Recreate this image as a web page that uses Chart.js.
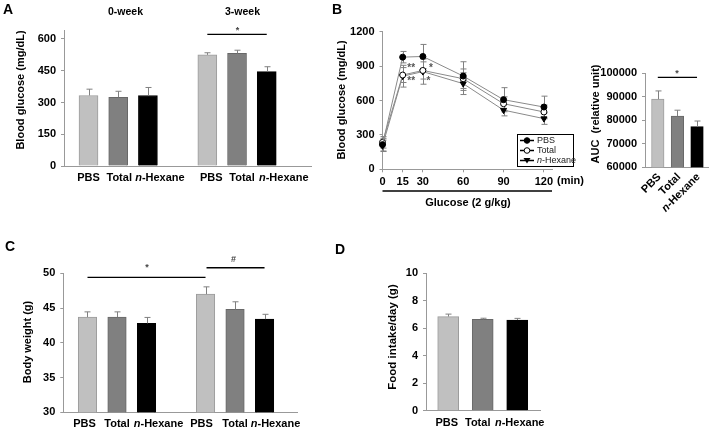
<!DOCTYPE html>
<html>
<head>
<meta charset="utf-8">
<script src="https://cdn.jsdelivr.net/npm/chart.js@4.4.1/dist/chart.umd.min.js"></script>
<style>
  html, body { margin: 0; padding: 0; background: #fff; }
  #page { position: relative; width: 716px; height: 434px; overflow: hidden; background: #fff; }
  canvas { position: absolute; }
</style>
</head>
<body>
<div id="page">
  <canvas id="chartA"></canvas>
  <canvas id="chartB"></canvas>
  <canvas id="chartAuc"></canvas>
  <canvas id="chartC"></canvas>
  <canvas id="chartD"></canvas>
</div>
<script>
// ---- data ----
var groupNames = ['PBS', 'Total', 'n-Hexane'];
var weekTitles = ['0-week', '3-week'];

// A: fasting blood glucose, two time points, gap slot between them
var glucoseSlots = [0, 1, 2, 4, 5, 6];
var glucoseMean = [333, 325, 333, 525, 532, 446];
var glucoseSem = [30, 28, 38, 10, 15, 23];

// B: OGTT
var ogttMinutes = [0, 15, 30, 60, 90, 120];
var ogttPBS = [215, 978, 984, 813, 607, 543];
var ogttTotal = [235, 822, 862, 790, 572, 500];
var ogttHexane = [205, 812, 852, 747, 516, 442];
var ogttPBSErr = [55, 50, 105, 125, 105, 95];
var ogttTotalErr = [50, 65, 75, 85, 60, 60];
var ogttHexaneErr = [50, 95, 110, 95, 50, 50];

// B right: area under curve
var aucSlots = [0, 1, 2];
var aucMean = [89000, 81800, 77300];
var aucSem = [3500, 2500, 2400];

// C: body weight
var weightSlots = [0, 1, 2, 4, 5, 6];
var weightMean = [43.7, 43.7, 42.8, 47.0, 44.8, 43.4];
var weightSem = [0.75, 0.75, 0.85, 1.05, 1.1, 0.7];

// D: food intake
var foodSlots = [0, 1, 2];
var foodMean = [6.85, 6.65, 6.6];
var foodSem = [0.18, 0.08, 0.12];

// label nudges (px) so the group names sit like the original
var labelShiftA = [0, 1, 12, 4, 5, 17];
var labelShiftC = [-3, 0, 12, -4, 0, 11];
var labelShiftD = [-1.5, -5, 2.5];

var barFill = ['#c0c0c0', '#808080', '#000000'];
var barEdge = ['#9c9c9c', '#686868', '#000000'];
var FONT = '"Liberation Sans", Arial, sans-serif';

Chart.defaults.font.family = FONT;
Chart.defaults.font.size = 11;
Chart.defaults.font.weight = 'bold';
Chart.defaults.color = '#000';

function place(cv, box) {
  cv.width = box.w; cv.height = box.h;
  cv.style.left = box.x + 'px'; cv.style.top = box.y + 'px';
  cv.style.width = box.w + 'px'; cv.style.height = box.h + 'px';
}

// draws "n-Hexane" with an italic n
function drawName(ctx, text, x, y, size, align, weight) {
  weight = weight || 'bold';
  var parts = text.indexOf('n-') === 0 ? [['italic ' + weight, 'n'], [weight, text.slice(1)]] : [[weight, text]];
  var w = 0;
  ctx.textBaseline = 'middle';
  ctx.textAlign = 'left';
  parts.forEach(function (p) {
    ctx.font = p[0] + ' ' + size + 'px ' + FONT;
    p.push(ctx.measureText(p[1]).width);
    w += p[2];
  });
  var sx = align === 'right' ? x - w : (align === 'left' ? x : x - w / 2);
  parts.forEach(function (p) {
    ctx.font = p[0] + ' ' + size + 'px ' + FONT;
    ctx.fillText(p[1], sx, y);
    sx += p[2];
  });
}

function text(ctx, s, x, y, font, align, rot) {
  ctx.save();
  ctx.font = font + ' ' + FONT;
  ctx.textAlign = align || 'center';
  ctx.textBaseline = 'middle';
  ctx.translate(x, y);
  if (rot) ctx.rotate(rot);
  ctx.fillText(s, 0, 0);
  ctx.restore();
}

function hline(ctx, x1, x2, y, w) {
  ctx.beginPath();
  ctx.lineWidth = w || 1.3;
  ctx.strokeStyle = '#000';
  ctx.moveTo(x1, y); ctx.lineTo(x2, y);
  ctx.stroke();
}

function errorBars(errSets, twoSided, hookName) {
  var hook = { id: 'errorBars' };
  hook[hookName] = function (chart) {
    var ctx = chart.ctx, ys = chart.scales.y;
    ctx.save();
    ctx.strokeStyle = '#808080';
    ctx.lineWidth = 1;
    errSets.forEach(function (errs, di) {
      var meta = chart.getDatasetMeta(di);
      meta.data.forEach(function (el, i) {
        var v = chart.data.datasets[di].data[i].y;
        var top = ys.getPixelForValue(v + errs[i]);
        var bot = twoSided ? ys.getPixelForValue(v - errs[i]) : el.y;
        var cx = Math.round(el.x) + 0.5;
        ctx.beginPath();
        ctx.moveTo(cx, top); ctx.lineTo(cx, bot);
        ctx.moveTo(cx - 3, top); ctx.lineTo(cx + 3, top);
        if (twoSided) { ctx.moveTo(cx - 3, bot); ctx.lineTo(cx + 3, bot); }
        ctx.stroke();
      });
    });
    ctx.restore();
  };
  return hook;
}

// annotation layer, drawn in page coordinates; px/py map data values to page pixels
function extras(box, fn) {
  return {
    id: 'extras',
    afterDraw: function (chart) {
      var ctx = chart.ctx, xs = chart.scales.x, ys = chart.scales.y;
      var px = function (v) { return xs.getPixelForValue(v) + box.x; };
      var py = function (v) { return ys.getPixelForValue(v) + box.y; };
      ctx.save();
      ctx.translate(-box.x, -box.y);
      ctx.fillStyle = '#000';
      fn(ctx, px, py);
      ctx.restore();
    }
  };
}

function yAxis(box, area, min, max, step) {
  return {
    min: min, max: max,
    ticks: { stepSize: step, includeBounds: false, padding: 5, callback: function (v) { return String(v); } },
    grid: { drawOnChartArea: false, tickLength: 3, color: '#999' },
    border: { color: '#999' },
    afterFit: function (s) { s.width = area.l - box.x; }
  };
}

function barPanel(id, box, area, d) {
  var cv = document.getElementById(id);
  place(cv, box);
  return new Chart(cv, {
    type: 'bar',
    data: {
      datasets: [{
        data: d.slots.map(function (s, i) { return { x: s, y: d.values[i] }; }),
        backgroundColor: d.slots.map(function (s, i) { return barFill[i % 3]; }),
        borderColor: d.slots.map(function (s, i) { return barEdge[i % 3]; }),
        borderWidth: 1,
        barThickness: d.barW
      }]
    },
    options: {
      responsive: false,
      animation: false,
      layout: { padding: { left: 0, top: area.t - box.y, right: box.x + box.w - area.r, bottom: 0 } },
      plugins: { legend: { display: false }, tooltip: { enabled: false } },
      scales: {
        x: {
          type: 'linear', min: d.xMin, max: d.xMax, offset: false,
          grid: { display: false }, ticks: { display: false },
          border: { color: '#999' },
          afterFit: function (s) { s.height = box.y + box.h - area.b; }
        },
        y: yAxis(box, area, d.yMin, d.yMax, d.step)
      }
    },
    plugins: [errorBars([d.errs], false, 'afterDatasetsDraw'), extras(box, d.draw)]
  });
}

// ---------- A ----------
var boxA = { x: 0, y: 0, w: 330, h: 200 }, areaA = { l: 64, t: 30, r: 311, b: 166 };
barPanel('chartA', boxA, areaA, {
  slots: glucoseSlots, values: glucoseMean, errs: glucoseSem,
  xMin: -0.825, xMax: 7.49, barW: 19, yMin: 0, yMax: 642.5, step: 150,
  draw: function (ctx, px, py) {
    text(ctx, 'A', 3, 10, 'bold 14px', 'left');
    text(ctx, weekTitles[0], 125.5, 12, 'bold 10.5px');
    text(ctx, weekTitles[1], 242.5, 12, 'bold 10.5px');
    text(ctx, 'Blood glucose (mg/dL)', 21, 90, 'bold 11px', 'center', -Math.PI / 2);
    glucoseSlots.forEach(function (s, i) {
      drawName(ctx, groupNames[i % 3], px(s) + labelShiftA[i], areaA.b + 12, 11, 'center');
    });
    hline(ctx, px(4), px(6), py(622));
    ctx.fillStyle = '#444';
    text(ctx, '*', 237.5, 31, 'bold 9px');
  }
});

// ---------- B (OGTT) ----------
var boxB = { x: 330, y: 0, w: 270, h: 215 }, areaB = { l: 382.5, t: 31.7, r: 552, b: 169.3 };
(function () {
  var cv = document.getElementById('chartB');
  place(cv, boxB);
  function pts(vals) { return ogttMinutes.map(function (t, i) { return { x: t, y: vals[i] }; }); }
  var lineStyle = { borderColor: '#8a8a8a', borderWidth: 1, clip: false, pointBorderColor: '#000', pointBorderWidth: 1 };
  new Chart(cv, {
    type: 'line',
    data: {
      datasets: [
        Object.assign({ label: 'PBS', data: pts(ogttPBS), pointRadius: 3, pointBackgroundColor: '#000' }, lineStyle),
        Object.assign({ label: 'Total', data: pts(ogttTotal), pointRadius: 3, pointBackgroundColor: '#fff' }, lineStyle),
        Object.assign({ label: 'n-Hexane', data: pts(ogttHexane), pointRadius: 3.5, pointStyle: 'triangle', rotation: 180, pointBackgroundColor: '#000' }, lineStyle)
      ]
    },
    options: {
      responsive: false,
      animation: false,
      layout: { padding: { left: 0, top: areaB.t - boxB.y, right: boxB.x + boxB.w - areaB.r, bottom: 0 } },
      plugins: { legend: { display: false }, tooltip: { enabled: false } },
      scales: {
        x: {
          type: 'linear', min: 0, max: 126,
          afterBuildTicks: function (s) { s.ticks = ogttMinutes.map(function (v) { return { value: v }; }); },
          ticks: { autoSkip: false, maxRotation: 0, padding: 3, callback: function (v) { return String(v); } },
          grid: { drawOnChartArea: false, tickLength: 3, color: '#999' },
          border: { color: '#999' },
          afterFit: function (s) { s.height = boxB.y + boxB.h - areaB.b; }
        },
        y: yAxis(boxB, areaB, 0, 1200, 300)
      }
    },
    plugins: [
      errorBars([ogttPBSErr, ogttTotalErr, ogttHexaneErr], true, 'beforeDatasetsDraw'),
      extras(boxB, function (ctx, px, py) {
        text(ctx, 'B', 332, 10, 'bold 14px', 'left');
        text(ctx, 'Blood glucose (mg/dL)', 342, 100, 'bold 11px', 'center', -Math.PI / 2);
        text(ctx, '(min)', 570.5, 181, 'bold 11px');
        hline(ctx, px(0), areaB.r, 191, 1.3);
        text(ctx, 'Glucose (2 g/kg)', 468, 203, 'bold 11px');
        ctx.fillStyle = '#555';
        text(ctx, '**', px(15) + 8.5, py(881), 'bold 10px');
        text(ctx, '**', px(15) + 8.5, py(764), 'bold 10px');
        text(ctx, '*', px(30) + 8, py(881), 'bold 10px');
        text(ctx, '*', px(30) + 5.5, py(764), 'bold 10px');
        // legend
        ctx.strokeStyle = '#000';
        ctx.lineWidth = 1;
        ctx.strokeRect(517.5, 134.5, 56, 32);
        var rows = [140.5, 150.5, 160.5];
        groupNames.forEach(function (name, i) {
          var y = rows[i];
          ctx.beginPath(); ctx.lineWidth = 1.5; ctx.strokeStyle = '#000';
          ctx.moveTo(520, y); ctx.lineTo(534, y); ctx.stroke();
          ctx.beginPath(); ctx.lineWidth = 1;
          if (i === 2) {
            ctx.moveTo(523.5, y - 2.5); ctx.lineTo(530.5, y - 2.5); ctx.lineTo(527, y + 3); ctx.closePath();
            ctx.fillStyle = '#000'; ctx.fill();
          } else {
            ctx.arc(527, y, 2.8, 0, Math.PI * 2);
            ctx.fillStyle = i === 0 ? '#000' : '#fff'; ctx.fill(); ctx.stroke();
          }
          ctx.fillStyle = '#222';
          drawName(ctx, name, 537, y, 9, 'left', 'normal');
        });
      })
    ]
  });
})();

// ---------- B right (AUC) ----------
var boxAuc = { x: 585, y: 40, w: 131, h: 200 }, areaAuc = { l: 645, t: 73.3, r: 708, b: 167.3 };
barPanel('chartAuc', boxAuc, areaAuc, {
  slots: aucSlots, values: aucMean, errs: aucSem,
  xMin: -0.653, xMax: 2.56, barW: 12.5, yMin: 60000, yMax: 100000, step: 10000,
  draw: function (ctx, px, py) {
    text(ctx, 'AUC  (relative unit)', 596, 114, 'bold 11px', 'center', -Math.PI / 2);
    aucSlots.forEach(function (s, i) {
      ctx.save();
      ctx.translate(px(s) + 1.5, areaAuc.b + 8);
      ctx.rotate(-Math.PI / 4);
      drawName(ctx, groupNames[i], 0, 0, 11, 'right');
      ctx.restore();
    });
    hline(ctx, px(0), px(2), py(98300));
    ctx.fillStyle = '#444';
    text(ctx, '*', 677, 74, 'bold 9px');
  }
});

// ---------- C ----------
var boxC = { x: 0, y: 220, w: 330, h: 214 }, areaC = { l: 63.3, t: 273.3, r: 297, b: 412.3 };
barPanel('chartC', boxC, areaC, {
  slots: weightSlots, values: weightMean, errs: weightSem,
  xMin: -0.82, xMax: 7.1, barW: 18.5, yMin: 30, yMax: 50, step: 5,
  draw: function (ctx, px, py) {
    text(ctx, 'C', 5, 247, 'bold 14px', 'left');
    text(ctx, 'Body weight (g)', 27.5, 342, 'bold 11px', 'center', -Math.PI / 2);
    weightSlots.forEach(function (s, i) {
      drawName(ctx, groupNames[i % 3], px(s) + labelShiftC[i], areaC.b + 12, 11, 'center');
    });
    hline(ctx, px(0), px(4), py(49.42));
    hline(ctx, px(4) + 1, px(6), py(50.8));
    ctx.fillStyle = '#444';
    text(ctx, '*', 147, 268, 'bold 9px');
    text(ctx, '#', 233.5, 260, 'bold 9px');
  }
});

// ---------- D ----------
var boxD = { x: 330, y: 220, w: 386, h: 214 }, areaD = { l: 426, t: 273.3, r: 540, b: 410.7 };
barPanel('chartD', boxD, areaD, {
  slots: foodSlots, values: foodMean, errs: foodSem,
  xMin: -0.643, xMax: 2.66, barW: 21, yMin: 0, yMax: 10, step: 2,
  draw: function (ctx, px, py) {
    text(ctx, 'D', 335, 250, 'bold 14px', 'left');
    text(ctx, 'Food intake/day (g)', 393, 337, 'bold 11.5px', 'center', -Math.PI / 2);
    foodSlots.forEach(function (s, i) {
      drawName(ctx, groupNames[i], px(s) + labelShiftD[i], areaD.b + 12, 11, 'center');
    });
  }
});
</script>
</body>
</html>
